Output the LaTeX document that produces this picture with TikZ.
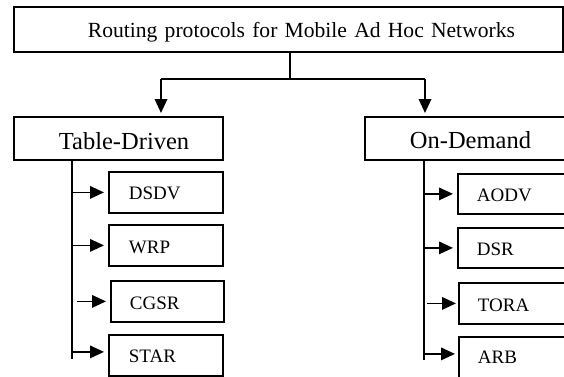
\documentclass[tikz,border=0pt]{standalone}
\usepackage{fontspec}
\setmainfont{Liberation Serif}
\usetikzlibrary{arrows.meta}
\begin{document}
\begin{tikzpicture}[x=1pt,y=-1pt,
  box/.style={draw, line width=1.8pt, anchor=north west, inner sep=0pt, align=left, text depth=0pt},
  bigfont/.style={font=\fontsize{21.6}{26}\selectfont},
  midfont/.style={font=\fontsize{24.5}{28}\selectfont},
  smallfont/.style={font=\fontsize{19}{22}\selectfont},
  conn/.style={line width=1.8pt},
  arr/.style={conn, -{Triangle[length=14pt,width=12.5pt]}, shorten >=4pt}]
\useasboundingbox (0,0) rectangle (564,376);
\clip (0,0) rectangle (564,376);
% boxes
\node[box, bigfont, minimum width=549pt, text width=549pt, minimum height=45pt, text height=17pt] (root) at (13,6) {\hspace*{74pt}Routing protocols for Mobile Ad Hoc Networks};
\node[box, midfont, minimum width=209pt, text width=209pt, minimum height=43pt, text height=23pt] (td) at (13,116) {\hspace*{45pt}Table-Driven};
\node[box, midfont, minimum width=220pt, text width=220pt, minimum height=43pt, text height=21pt] (od) at (364,116) {\hspace*{45pt}On-Demand};
\node[box, smallfont, minimum width=114pt, text width=114pt, minimum height=41pt, text height=15pt] (dsdv) at (108,171) {\hspace*{20pt}DSDV};
\node[box, smallfont, minimum width=114pt, text width=114pt, minimum height=41pt, text height=16.4pt] (wrp) at (108,224) {\hspace*{20pt}WRP};
\node[box, smallfont, minimum width=113pt, text width=113pt, minimum height=41pt, text height=17pt] (cgsr) at (110,280) {\hspace*{19pt}CGSR};
\node[box, smallfont, minimum width=114pt, text width=114pt, minimum height=41pt, text height=14.4pt] (star) at (108,334) {\hspace*{20pt}STAR};
\node[box, smallfont, minimum width=130pt, text width=130pt, minimum height=40pt, text height=15.4pt] (aodv) at (457,173) {\hspace*{19pt}AODV};
\node[box, smallfont, minimum width=130pt, text width=130pt, minimum height=40pt, text height=16pt] (dsr) at (457,227) {\hspace*{19pt}DSR};
\node[box, smallfont, minimum width=130pt, text width=130pt, minimum height=41pt, text height=16.4pt] (tora) at (458,282) {\hspace*{19pt}TORA};
\node[box, smallfont, minimum width=130pt, text width=130pt, minimum height=41pt, text height=13pt] (arb) at (458,336) {\hspace*{19pt}ARB};
% top connectors
\coordinate (j) at (290,79);
\coordinate (a1) at (161,79);
\coordinate (a2) at (425,79);
\draw[conn] (root.south -| j) -- (j);
\draw[conn] (a1) -- (a2);
\draw[arr, shorten >=3pt] (a1) -- (a1 |- td.north);
\draw[arr, shorten >=3pt] (a2) -- (a2 |- od.north);
% left branch
\coordinate (L) at (72,159);
\coordinate (Lb) at (72,359);
\draw[conn] (L) -- (Lb);
\draw[arr] (dsdv.west -| L) -- (dsdv.west);
\draw[arr] (wrp.west -| L) -- (wrp.west);
\draw[arr] ([xshift=5pt]cgsr.west -| L) -- (cgsr.west);
\draw[arr] ([yshift=3.5pt]star.west -| L) -- ([yshift=3.5pt]star.west);
% right branch
\coordinate (R) at (424,159);
\coordinate (Rb) at (424,360);
\draw[conn] (R) -- (Rb);
\draw[arr] (aodv.west -| R) -- (aodv.west);
\draw[arr] (dsr.west -| R) -- (dsr.west);
\draw[arr, shorten >=2pt] ([xshift=3pt]tora.west -| R) -- (tora.west);
\draw[arr, shorten >=3pt] ([yshift=3.5pt]arb.west -| R) -- ([yshift=3.5pt]arb.west);
\end{tikzpicture}
\end{document}
